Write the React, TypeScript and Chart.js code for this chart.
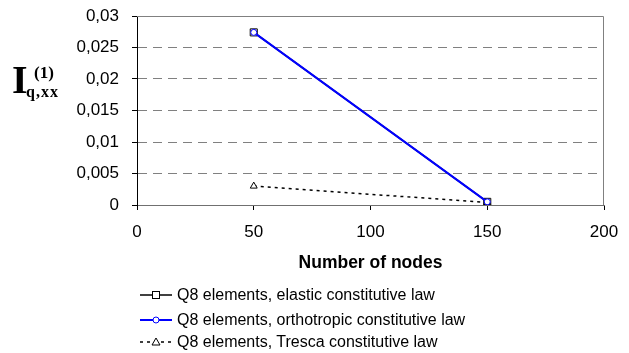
import React, { useEffect, useRef } from "react";
import { Chart, registerables } from "chart.js";

Chart.register(...registerables);

const nodes = [50, 150];
const elasticValues = [0.0274, 0.0005];
const orthotropicValues = [0.0274, 0.0005];
const trescaValues = [0.003, 0.0004];
const yTicks = [0, 0.005, 0.01, 0.015, 0.02, 0.025, 0.03];
const xTicks = [0, 50, 100, 150, 200];
const seriesLabels = [
  "Q8 elements, elastic constitutive law",
  "Q8 elements, orthotropic constitutive law",
  "Q8 elements, Tresca constitutive law",
];
const xTitle = "Number of nodes";

const FONT = "'Liberation Sans', Arial, sans-serif";
const SERIF = "'Liberation Serif', 'Times New Roman', serif";

const framePlugin = {
  id: "frame",
  beforeDatasetsDraw(chart: any) {
    const { ctx, chartArea } = chart;
    ctx.save();
    ctx.strokeStyle = "#808080";
    ctx.lineWidth = 1;
    ctx.beginPath();
    ctx.moveTo(chartArea.left, chartArea.top + 0.5);
    ctx.lineTo(chartArea.right - 0.5, chartArea.top + 0.5);
    ctx.lineTo(chartArea.right - 0.5, chartArea.bottom);
    ctx.stroke();
    ctx.restore();
  },
};

function LegendIcon({ kind }: { kind: number }) {
  if (kind === 0) {
    return (
      <svg width="32" height="12">
        <line x1="0" y1="6" x2="32" y2="6" stroke="#000" strokeWidth="1.5" />
        <rect x="12.5" y="2.5" width="7" height="7" fill="#fff" stroke="#000" strokeWidth="1" />
      </svg>
    );
  }
  if (kind === 1) {
    return (
      <svg width="32" height="12">
        <line x1="0" y1="6" x2="32" y2="6" stroke="#0000ff" strokeWidth="2" />
        <circle cx="16" cy="6" r="3" fill="#fff" stroke="#0000ff" strokeWidth="1" />
      </svg>
    );
  }
  return (
    <svg width="32" height="12">
      <line x1="0" y1="6" x2="32" y2="6" stroke="#000" strokeWidth="1.5" strokeDasharray="3 4" />
      <polygon points="16,2 20,9 12,9" fill="#fff" stroke="#000" strokeWidth="1" />
    </svg>
  );
}

export default function App() {
  const canvasRef = useRef<HTMLCanvasElement | null>(null);

  useEffect(() => {
    if (!canvasRef.current) return;
    const chart = new Chart(canvasRef.current, {
      type: "line",
      data: {
        datasets: [
          {
            label: seriesLabels[0],
            data: nodes.map((x, i) => ({ x, y: elasticValues[i] })),
            borderColor: "#000000",
            backgroundColor: "#ffffff",
            borderWidth: 1.5,
            pointStyle: "rect",
            pointRadius: 5,
            pointBorderWidth: 1,
            pointBorderColor: "#000000",
            order: 3,
          },
          {
            label: seriesLabels[1],
            data: nodes.map((x, i) => ({ x, y: orthotropicValues[i] })),
            borderColor: "#0000ff",
            backgroundColor: "#ffffff",
            borderWidth: 2,
            pointStyle: "circle",
            pointRadius: 3,
            pointBorderWidth: 1,
            pointBorderColor: "#0000ff",
            order: 1,
          },
          {
            label: seriesLabels[2],
            data: nodes.map((x, i) => ({ x, y: trescaValues[i] })),
            borderColor: "#000000",
            backgroundColor: "#ffffff",
            borderWidth: 1.5,
            borderDash: [3, 4],
            pointStyle: "triangle",
            pointRadius: 4,
            pointBorderWidth: 1,
            pointBorderColor: "#000000",
            order: 2,
          },
        ],
      },
      options: {
        animation: false,
        responsive: false,
        devicePixelRatio: 1,
        layout: { padding: { top: 16, right: 25, bottom: 79, left: 0 } },
        plugins: {
          legend: { display: false },
          tooltip: { enabled: false },
        },
        scales: {
          x: {
            type: "linear",
            min: 0,
            max: 200,
            afterFit: (s: any) => {
              s.height = 69;
              s.paddingLeft = 10;
              s.paddingRight = 15;
            },
            afterBuildTicks: (s: any) => {
              s.ticks = xTicks.map((v) => ({ value: v }));
            },
            grid: { drawOnChartArea: false, tickLength: 5, tickColor: "#000000" },
            border: { color: "#707070", width: 1 },
            ticks: {
              color: "#000000",
              font: { family: FONT, size: 17 },
              padding: 12,
              maxRotation: 0,
            },
            title: {
              display: true,
              text: xTitle,
              color: "#000000",
              font: { family: FONT, size: 17.5, weight: "bold" },
              padding: { top: 0, bottom: 0 },
            },
          },
          y: {
            type: "linear",
            min: 0,
            max: 0.03,
            afterFit: (s: any) => {
              s.width = 137;
              s.paddingTop = 10;
              s.paddingBottom = 10;
            },
            afterBuildTicks: (s: any) => {
              s.ticks = yTicks.map((v) => ({ value: v }));
            },
            grid: {
              color: (ctx: any) =>
                ctx.tick && (ctx.tick.value === 0 || ctx.tick.value === 0.03) ? "rgba(0,0,0,0)" : "#808080",
              tickLength: 5,
              tickColor: "#000000",
            },
            border: { color: "#000000", width: 1, dash: [9, 6] },
            ticks: {
              color: "#000000",
              font: { family: FONT, size: 17 },
              padding: 13,
              callback: (v: any) => String(v).replace(".", ","),
            },
          },
        },
      },
      plugins: [framePlugin],
    } as any);
    return () => chart.destroy();
  }, []);

  const legendTops = [284, 309, 331];

  return (
    <div style={{ position: "fixed", left: 0, top: 0, width: 629, height: 353, background: "#ffffff", overflow: "hidden" }}>
      <canvas ref={canvasRef} width={629} height={353} style={{ display: "block", width: 629, height: 353 }} />
      <div style={{ position: "absolute", left: 12, top: 60, fontFamily: SERIF, fontWeight: "bold", fontSize: 40, lineHeight: 1, color: "#000" }}>I</div>
      <div style={{ position: "absolute", left: 34, top: 64, fontFamily: SERIF, fontWeight: "bold", fontSize: 17, lineHeight: 1, color: "#000" }}>(1)</div>
      <div style={{ position: "absolute", left: 26, top: 84, fontFamily: SERIF, fontWeight: "bold", fontSize: 16, lineHeight: 1, letterSpacing: 1, color: "#000" }}>q,xx</div>
      {seriesLabels.map((label, i) => (
        <div key={i} style={{ position: "absolute", left: 140, top: legendTops[i], height: 22, display: "flex", alignItems: "center", whiteSpace: "nowrap" }}>
          <LegendIcon kind={i} />
          <span style={{ marginLeft: 5, fontFamily: FONT, fontSize: 16, color: "#000" }}>{label}</span>
        </div>
      ))}
    </div>
  );
}
